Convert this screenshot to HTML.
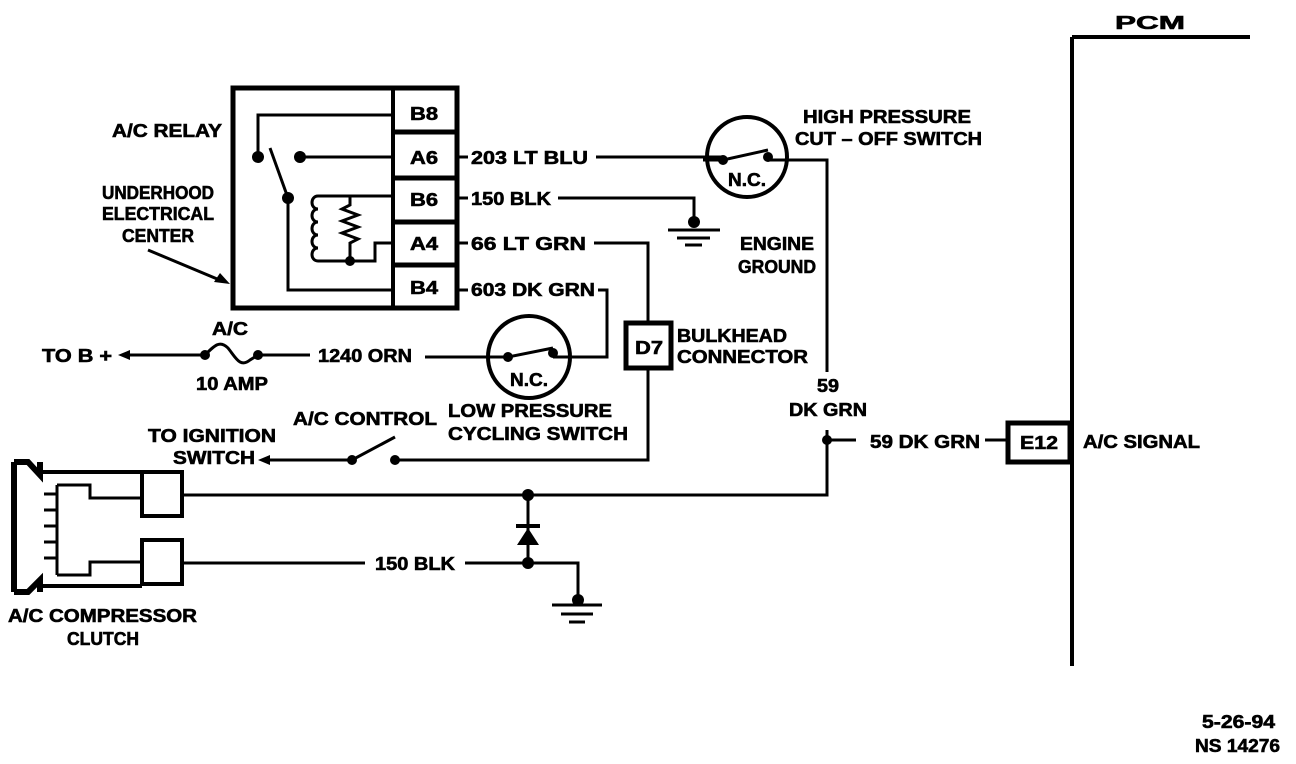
<!DOCTYPE html>
<html><head><meta charset="utf-8"><style>
html,body{margin:0;padding:0;background:#fff;}
svg{display:block;}
text{font-family:"Liberation Sans",sans-serif;font-weight:bold;font-size:18px;fill:#000;stroke:#000;stroke-width:0.6;}
</style></head><body>
<svg width="1296" height="764" viewBox="0 0 1296 764" xmlns="http://www.w3.org/2000/svg">
<g fill="none" stroke="#000" stroke-width="3">
<path d="M1072 37 H1250 M1072 37 V666" stroke-width="4"/>
<rect x="233" y="88" width="224" height="220" stroke-width="5"/>
<line x1="393" y1="88" x2="393" y2="308" stroke-width="4"/>
<line x1="393" y1="132" x2="457" y2="132" stroke-width="5"/>
<line x1="393" y1="178" x2="457" y2="178" stroke-width="5"/>
<line x1="393" y1="222" x2="457" y2="222" stroke-width="5"/>
<line x1="393" y1="265" x2="457" y2="265" stroke-width="5"/>
<path d="M393 115 H258 V155"/>
<path d="M300 157 H393"/>
<path d="M270 148 L288 198"/>
<path d="M288 198 V290 H393"/>
<path d="M393 196 H318 M318 196 c-8 0 -8 13 0 13 c-8 0 -8 13 0 13 c-8 0 -8 13 0 13 c-8 0 -8 13 0 13 c-8 0 -8 13 0 13 M318 261 H375 V243 H393"/>
<path d="M350 196 V205 L342 209 L358 215 L342 221 L358 227 L342 233 L358 239 L350 243 V261"/>
<path d="M457 157 H468 M596 157 H723 M768 160 H827 V372 M827 430 V495 H183"/>
<path d="M457 198 H468 M558 198 H694 V222"/>
<path d="M457 243 H468 M594 243 H648 V322 M648 368 V460 H395"/>
<path d="M457 290 H468 M598 290 H607 V357 H553"/>
<path d="M827 440 H856 M985 440 H1007"/>
<rect x="1008" y="423" width="62" height="39" stroke-width="5"/>
<rect x="626" y="323" width="45" height="45" stroke-width="5"/>
<circle cx="747" cy="157" r="40" stroke-width="4"/>
<path d="M703 160 H723 L768 150"/>
<circle cx="529" cy="357" r="41" stroke-width="4"/>
<path d="M425 357 H508 L553 348"/>
<path d="M125 355 H205 M258 355 H310"/>
<path d="M205 355 C215 345 220 340 228 348 C236 358 240 368 250 360 L258 355"/>
<path d="M262 460 H352 L395 437"/>
<path d="M668 230 H720 M677 238 H710 M685 245 H702"/>
<path d="M183 563 H365 M465 563 H578 V600"/>
<path d="M528 495 V563"/>
<rect x="142" y="472" width="40" height="44" stroke-width="4"/>
<rect x="142" y="540" width="40" height="44" stroke-width="4"/>
<path d="M14 462 V592 M14 462 H28 L40 475 V462 M14 592 H28 L40 580 V592" stroke-width="6"/>
<path d="M42 472 H142 M42 586 H142" stroke-width="4"/>
<path d="M57 485 H90 V498 H140 M57 575 H90 V562 H140 M57 485 V575 M57 494 H44 M57 510 H44 M57 526 H44 M57 542 H44 M57 558 H44"/>
<path d="M552 605 H602 M561 614 H593 M569 622 H585"/>
<path d="M148 250 L222 281"/>
</g>
<g fill="#000">
<circle cx="258" cy="157" r="6"/><circle cx="300" cy="157" r="6"/><circle cx="288" cy="198" r="6"/><circle cx="350" cy="261" r="5"/>
<circle cx="723" cy="160" r="5"/><circle cx="768" cy="157" r="5"/>
<circle cx="508" cy="357" r="5"/><circle cx="553" cy="353" r="5"/>
<circle cx="205" cy="355" r="5"/><circle cx="258" cy="355" r="5"/>
<circle cx="352" cy="460" r="5"/><circle cx="395" cy="460" r="5"/>
<circle cx="694" cy="222" r="6"/><circle cx="827" cy="440" r="5"/>
<circle cx="528" cy="495" r="6"/><circle cx="528" cy="563" r="6"/><circle cx="578" cy="600" r="6"/>
<polygon points="517,545 539,545 528,528"/>
<rect x="516" y="524" width="24" height="4"/>
<polygon points="118,355 130,350 130,360"/>
<polygon points="258,460 270,455 270,465"/>
<polygon points="230,284 214,282 220,273"/>
</g>
<g lengthAdjust="spacingAndGlyphs">
<text x="1115" y="29" font-size="24" textLength="70" lengthAdjust="spacingAndGlyphs">PCM</text>
<text x="112" y="137" textLength="110" lengthAdjust="spacingAndGlyphs">A/C RELAY</text>
<text x="158" y="199" text-anchor="middle" textLength="112" lengthAdjust="spacingAndGlyphs">UNDERHOOD</text>
<text x="158" y="220" text-anchor="middle" textLength="112" lengthAdjust="spacingAndGlyphs">ELECTRICAL</text>
<text x="158" y="242" text-anchor="middle" textLength="72" lengthAdjust="spacingAndGlyphs">CENTER</text>
<text x="410" y="120" textLength="28" lengthAdjust="spacingAndGlyphs">B8</text>
<text x="410" y="164" textLength="28" lengthAdjust="spacingAndGlyphs">A6</text>
<text x="410" y="206" textLength="28" lengthAdjust="spacingAndGlyphs">B6</text>
<text x="410" y="250" textLength="28" lengthAdjust="spacingAndGlyphs">A4</text>
<text x="410" y="294" textLength="28" lengthAdjust="spacingAndGlyphs">B4</text>
<text x="471" y="164" textLength="117" lengthAdjust="spacingAndGlyphs">203 LT BLU</text>
<text x="471" y="205" textLength="80" lengthAdjust="spacingAndGlyphs">150 BLK</text>
<text x="471" y="250" textLength="115" lengthAdjust="spacingAndGlyphs">66 LT GRN</text>
<text x="471" y="296" textLength="124" lengthAdjust="spacingAndGlyphs">603 DK GRN</text>
<text x="803" y="123" textLength="168" lengthAdjust="spacingAndGlyphs">HIGH PRESSURE</text>
<text x="795" y="145" textLength="187" lengthAdjust="spacingAndGlyphs">CUT – OFF SWITCH</text>
<text x="747" y="186" text-anchor="middle" font-size="17" textLength="38" lengthAdjust="spacingAndGlyphs">N.C.</text>
<text x="529" y="386" text-anchor="middle" font-size="17" textLength="38" lengthAdjust="spacingAndGlyphs">N.C.</text>
<text x="777" y="250" text-anchor="middle" textLength="74" lengthAdjust="spacingAndGlyphs">ENGINE</text>
<text x="777" y="273" text-anchor="middle" textLength="78" lengthAdjust="spacingAndGlyphs">GROUND</text>
<text x="635" y="354" textLength="28" lengthAdjust="spacingAndGlyphs">D7</text>
<text x="677" y="342" textLength="110" lengthAdjust="spacingAndGlyphs">BULKHEAD</text>
<text x="677" y="363" textLength="131" lengthAdjust="spacingAndGlyphs">CONNECTOR</text>
<text x="828" y="392" text-anchor="middle" textLength="22" lengthAdjust="spacingAndGlyphs">59</text>
<text x="828" y="416" text-anchor="middle" textLength="78" lengthAdjust="spacingAndGlyphs">DK GRN</text>
<text x="870" y="448" textLength="110" lengthAdjust="spacingAndGlyphs">59 DK GRN</text>
<text x="1020" y="449" textLength="38" lengthAdjust="spacingAndGlyphs">E12</text>
<text x="1083" y="448" textLength="117" lengthAdjust="spacingAndGlyphs">A/C SIGNAL</text>
<text x="448" y="417" textLength="164" lengthAdjust="spacingAndGlyphs">LOW PRESSURE</text>
<text x="448" y="440" textLength="180" lengthAdjust="spacingAndGlyphs">CYCLING SWITCH</text>
<text x="293" y="425" textLength="144" lengthAdjust="spacingAndGlyphs">A/C CONTROL</text>
<text x="212" y="442" text-anchor="middle" textLength="128" lengthAdjust="spacingAndGlyphs">TO IGNITION</text>
<text x="173" y="464" textLength="82" lengthAdjust="spacingAndGlyphs">SWITCH</text>
<text x="42" y="362" textLength="70" lengthAdjust="spacingAndGlyphs">TO B +</text>
<text x="230" y="335" text-anchor="middle" textLength="36" lengthAdjust="spacingAndGlyphs">A/C</text>
<text x="232" y="390" text-anchor="middle" textLength="72" lengthAdjust="spacingAndGlyphs">10 AMP</text>
<text x="318" y="362" textLength="94" lengthAdjust="spacingAndGlyphs">1240 ORN</text>
<text x="375" y="570" textLength="80" lengthAdjust="spacingAndGlyphs">150 BLK</text>
<text x="8" y="622" textLength="189" lengthAdjust="spacingAndGlyphs">A/C COMPRESSOR</text>
<text x="103" y="645" text-anchor="middle" textLength="72" lengthAdjust="spacingAndGlyphs">CLUTCH</text>
<text x="1202" y="728" font-size="15" textLength="73" lengthAdjust="spacingAndGlyphs">5-26-94</text>
<text x="1195" y="752" font-size="15" textLength="85" lengthAdjust="spacingAndGlyphs">NS 14276</text>
</g>
</svg>
</body></html>
